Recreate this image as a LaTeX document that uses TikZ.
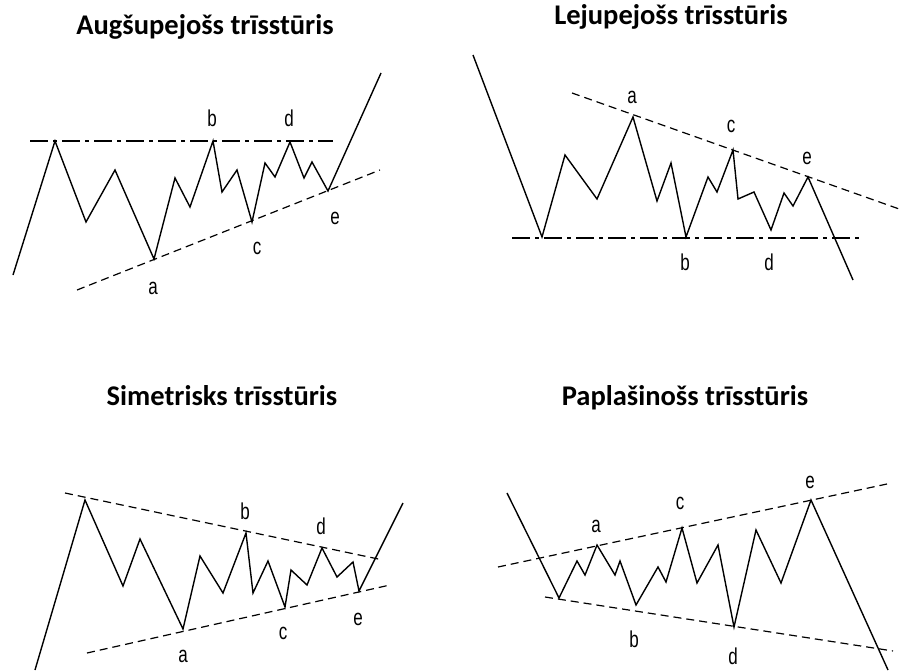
\documentclass[tikz,border=0pt]{standalone}
\usepackage{fontspec}
\setmainfont{Liberation Sans}
\newfontfamily\titlefont{Carlito}
\begin{document}
\begin{tikzpicture}[x=1pt,y=-1pt,
  wave/.style={line width=1.4pt, line join=miter},
  dashdot/.style={line width=1.2pt, dash pattern=on 18pt off 5pt on 4pt off 5pt},
  trend/.style={line width=1.2pt, dash pattern=on 8pt off 5pt},
  lbl/.style={font=\fontsize{17}{17}\selectfont, inner sep=0pt, yscale=1.35, transform shape},
  ttl/.style={font=\titlefont\bfseries\fontsize{28.5}{28.5}\selectfont, anchor=base, inner sep=0pt}]
\useasboundingbox[fill=white] (0,0) rectangle (907,671);

% ---------- Panel 1: Augsupejoss ----------
\node[ttl] (T1) at (205,35) {Augšupejošs trīsstūris};
\coordinate (A0) at (13,275);
\coordinate (A1) at (55,141);
\coordinate (A2) at (86,222);
\coordinate (A3) at (115,170);
\coordinate (Aa) at (154,259);
\coordinate (A5) at (175,178);
\coordinate (A6) at (190,207);
\coordinate (Ab) at (213,141);
\coordinate (A8) at (222,192);
\coordinate (A9) at (237,170);
\coordinate (Ac) at (252,222);
\coordinate (A11) at (265,163);
\coordinate (A12) at (275,177);
\coordinate (Ad) at (290,142);
\coordinate (A14) at (304,178);
\coordinate (A15) at (312,162);
\coordinate (Ae) at (328,191);
\coordinate (A17) at (381,73);
\coordinate (AU1) at (30,141);
\coordinate (AU2) at (333,141);
\coordinate (AL1) at (77,290);
\coordinate (AL2) at (380,170);
\draw[dashdot] (AU1) -- (AU2);
\draw[trend] (AL1) -- (AL2);
\draw[wave] (A0) -- (A1) -- (A2) -- (A3) -- (Aa) -- (A5) -- (A6) -- (Ab) -- (A8) -- (A9) -- (Ac) -- (A11) -- (A12) -- (Ad) -- (A14) -- (A15) -- (Ae) -- (A17);
\node[lbl] (Ala) at (153,288) {a};
\node[lbl] (Alb) at (212,118) {b};
\node[lbl] (Alc) at (257,248) {c};
\node[lbl] (Ald) at (289,118) {d};
\node[lbl] (Ale) at (335,218) {e};

% ---------- Panel 2: Lejupejoss ----------
\node[ttl] (T2) at (671,25) {Lejupejošs trīsstūris};
\coordinate (B0) at (473,55);
\coordinate (B1) at (542,237);
\coordinate (B2) at (565,155);
\coordinate (B3) at (597,199);
\coordinate (Ba) at (633,117);
\coordinate (B5) at (657,201);
\coordinate (B6) at (671,163);
\coordinate (Bb) at (686,237);
\coordinate (B8) at (708,177);
\coordinate (B9) at (717,192);
\coordinate (Bc) at (733,150);
\coordinate (B11) at (738,199);
\coordinate (B12) at (754,192);
\coordinate (Bd) at (771,230);
\coordinate (B14) at (784,193);
\coordinate (B15) at (793,206);
\coordinate (Be) at (808,177);
\coordinate (B17) at (853,280);
\coordinate (BU1) at (572,93);
\coordinate (BU2) at (902,210);
\coordinate (BL1) at (512,238);
\coordinate (BL2) at (860,238);
\draw[trend] (BU1) -- (BU2);
\draw[dashdot] (BL1) -- (BL2);
\draw[wave] (B0) -- (B1) -- (B2) -- (B3) -- (Ba) -- (B5) -- (B6) -- (Bb) -- (B8) -- (B9) -- (Bc) -- (B11) -- (B12) -- (Bd) -- (B14) -- (B15) -- (Be) -- (B17);
\node[lbl] (Bla) at (632,97) {a};
\node[lbl] (Blb) at (685,262) {b};
\node[lbl] (Blc) at (731,126) {c};
\node[lbl] (Bld) at (769,262) {d};
\node[lbl] (Ble) at (807,158) {e};

% ---------- Panel 3: Simetrisks ----------
\node[ttl] (T3) at (222,405) {Simetrisks trīsstūris};
\coordinate (C0) at (35,670);
\coordinate (C1) at (85,500);
\coordinate (C2) at (123,586);
\coordinate (C3) at (140,539);
\coordinate (Ca) at (183,629);
\coordinate (C5) at (200,556);
\coordinate (C6) at (223,593);
\coordinate (Cb) at (246,533);
\coordinate (C8) at (253,593);
\coordinate (C9) at (268,561);
\coordinate (Cc) at (285,607);
\coordinate (C11) at (291,570);
\coordinate (C12) at (307,585);
\coordinate (Cd) at (322,548);
\coordinate (C14) at (337,577);
\coordinate (C15) at (353,562);
\coordinate (Ce) at (359,591);
\coordinate (C17) at (403,503);
\coordinate (CU1) at (65,493);
\coordinate (CU2) at (383,560);
\coordinate (CL1) at (87,653);
\coordinate (CL2) at (390,585);
\draw[trend] (CU1) -- (CU2);
\draw[trend] (CL1) -- (CL2);
\draw[wave] (C0) -- (C1) -- (C2) -- (C3) -- (Ca) -- (C5) -- (C6) -- (Cb) -- (C8) -- (C9) -- (Cc) -- (C11) -- (C12) -- (Cd) -- (C14) -- (C15) -- (Ce) -- (C17);
\node[lbl] (Cla) at (183,656) {a};
\node[lbl] (Clb) at (245,511) {b};
\node[lbl] (Clc) at (283,633) {c};
\node[lbl] (Cld) at (321,526) {d};
\node[lbl] (Cle) at (358,619) {e};

% ---------- Panel 4: Paplasinoss ----------
\node[ttl] (T4) at (685,405) {Paplašinošs trīsstūris};
\coordinate (D0) at (507,493);
\coordinate (D1) at (559,598);
\coordinate (D2) at (577,561);
\coordinate (D3) at (585,575);
\coordinate (Da) at (597,545);
\coordinate (D5) at (615,575);
\coordinate (D6) at (620,561);
\coordinate (Db) at (636,605);
\coordinate (D8) at (658,567);
\coordinate (D9) at (666,582);
\coordinate (Dc) at (682,528);
\coordinate (D11) at (697,583);
\coordinate (D12) at (718,545);
\coordinate (Dd) at (734,627);
\coordinate (D14) at (756,530);
\coordinate (D15) at (781,583);
\coordinate (De) at (811,500);
\coordinate (D17) at (888,670);
\coordinate (DU1) at (498,567);
\coordinate (DU2) at (887,484);
\coordinate (DL1) at (545,597);
\coordinate (DL2) at (893,651);
\draw[trend] (DU1) -- (DU2);
\draw[trend] (DL1) -- (DL2);
\draw[wave] (D0) -- (D1) -- (D2) -- (D3) -- (Da) -- (D5) -- (D6) -- (Db) -- (D8) -- (D9) -- (Dc) -- (D11) -- (D12) -- (Dd) -- (D14) -- (D15) -- (De) -- (D17);
\node[lbl] (Dla) at (596,526) {a};
\node[lbl] (Dlb) at (634,639) {b};
\node[lbl] (Dlc) at (680,503) {c};
\node[lbl] (Dld) at (733,656) {d};
\node[lbl] (Dle) at (810,482) {e};
\end{tikzpicture}
\end{document}
